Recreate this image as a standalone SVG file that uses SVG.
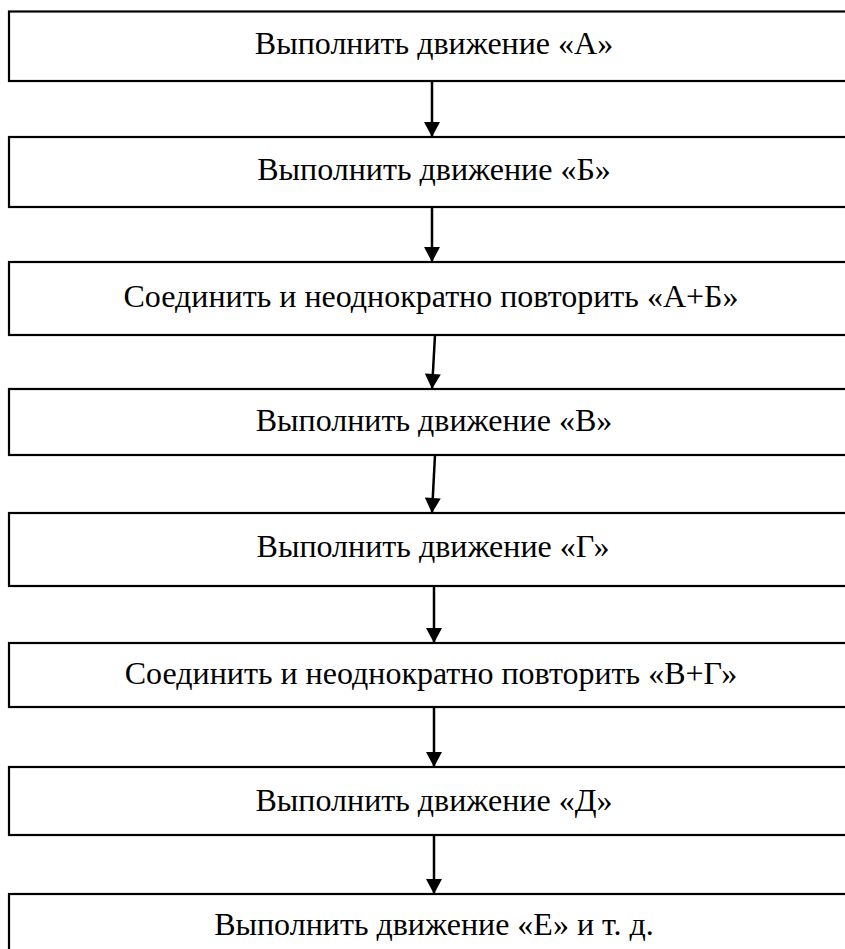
<svg xmlns="http://www.w3.org/2000/svg" width="845" height="949" viewBox="0 0 845 949">
<style>
.box{fill:#fff;stroke:#000;stroke-width:2.2}
.lbl{font-family:"Liberation Serif","Times New Roman",serif;font-size:32px;fill:#000;text-anchor:middle}
.conn{stroke:#000;stroke-width:2.5;fill:none;marker-end:url(#ah)}
</style>
<defs>
<marker id="ah" markerUnits="userSpaceOnUse" markerWidth="16" markerHeight="16" viewBox="0 0 15 16" refX="15" refY="8" orient="auto">
<path d="M0,0 L15,8 L0,16 Z" fill="#000"/>
</marker>
</defs>
<rect width="845" height="949" fill="#fff"/>
<g id="n1"><rect class="box" x="9" y="11.5" width="850" height="69.5"/><text class="lbl" x="434" y="54">Выполнить движение «А»</text></g>
<g id="n2"><rect class="box" x="9" y="137" width="850" height="70"/><text class="lbl" x="434" y="180">Выполнить движение «Б»</text></g>
<g id="n3"><rect class="box" x="9" y="262" width="850" height="73"/><text class="lbl" x="431" y="307">Соединить и неоднократно повторить «А+Б»</text></g>
<g id="n4"><rect class="box" x="9" y="389" width="850" height="66"/><text class="lbl" x="434" y="431">Выполнить движение «В»</text></g>
<g id="n5"><rect class="box" x="9" y="513" width="850" height="73"/><text class="lbl" x="433" y="557">Выполнить движение «Г»</text></g>
<g id="n6"><rect class="box" x="9" y="643" width="850" height="64"/><text class="lbl" x="431" y="684">Соединить и неоднократно повторить «В+Г»</text></g>
<g id="n7"><rect class="box" x="9" y="767" width="850" height="68"/><text class="lbl" x="434" y="811">Выполнить движение «Д»</text></g>
<g id="n8"><rect class="box" x="9" y="894" width="850" height="70"/><text class="lbl" x="434" y="935">Выполнить движение «Е» и т. д.</text></g>
<g id="connectors">
<line class="conn" x1="432" y1="81" x2="432" y2="137"/>
<line class="conn" x1="432" y1="207" x2="432" y2="262"/>
<line class="conn" x1="435" y1="335" x2="432" y2="389"/>
<line class="conn" x1="435" y1="455" x2="432" y2="513"/>
<line class="conn" x1="434" y1="586" x2="434" y2="643"/>
<line class="conn" x1="434" y1="707" x2="434" y2="767"/>
<line class="conn" x1="434" y1="835" x2="434" y2="894"/>
</g>
</svg>
